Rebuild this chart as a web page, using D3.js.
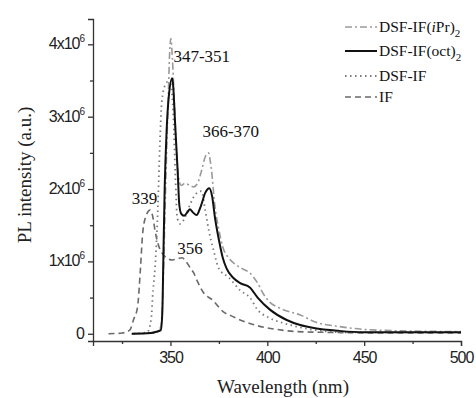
<!DOCTYPE html>
<html><head><meta charset="utf-8">
<script src="https://cdn.jsdelivr.net/npm/d3@7"></script>
<style>
body{margin:0;background:#fff;}
svg{display:block;}
</style></head>
<body><svg id="c" width="476" height="398"></svg>
<script>
// values in units of 10^6 a.u.
const ifWl  = [318,325,329,331,333,334.5,335.5,337,339.5,341,342,343.5,345.5,348,351,354,356,358,360,362,364,367,372,377,382,387,395,405,415,430,460,500];
const ifVal = [0,0.01,0.05,0.2,0.37,0.9,1.34,1.6,1.71,1.6,1.43,1.25,1.12,1.05,1.02,1.04,1.05,1.0,0.92,0.84,0.72,0.57,0.46,0.31,0.24,0.18,0.11,0.06,0.03,0.02,0.01,0.01];

const dsfWl  = [331,338,340,341,342,343,343.5,344.5,345.5,347,348.5,350,351.5,352.5,353.5,355,357,360,363,366,368,370,372,375,380,386,391,395,401,408,415,425,440,470,500];
const dsfVal = [0,0.02,0.2,0.6,0.9,1.4,1.75,2.6,3.2,3.42,3.48,3.45,3.0,2.2,1.6,1.52,1.58,1.78,1.93,1.97,1.7,1.4,1.18,0.9,0.78,0.6,0.5,0.33,0.22,0.15,0.1,0.05,0.02,0.02,0.02];

const octWl  = [330,340,343,345,345.8,346.3,347,348,349.1,350.9,352.6,353.8,354.5,355.5,357,359,360,361.5,363.5,365.5,368,370,371.5,373,375,377,379,382.5,386,391,395,401.5,410,417,424,437,450,500];
const octVal = [0,0.01,0.03,0.05,0.3,1.0,2.0,2.8,3.27,3.53,2.8,2.2,1.8,1.66,1.63,1.69,1.72,1.68,1.64,1.75,1.95,2.01,1.9,1.6,1.3,1.05,0.9,0.77,0.7,0.64,0.5,0.33,0.19,0.12,0.08,0.04,0.02,0.02];

const iprWl  = [330,343,345,346,347,348,348.8,349.6,350.2,351,352,353,354,355.5,357.5,360,362,364,366,368,369.6,371,373,374.7,377,380,383,387,391,395,398,401.5,406,412,417,424,437,450,470,500];
const iprVal = [0,0.02,0.1,0.5,1.5,2.5,3.2,3.9,4.08,3.8,3.2,2.6,2.2,2.05,2.08,2.05,2.03,2.08,2.25,2.45,2.5,2.3,1.75,1.48,1.2,1.05,0.97,0.9,0.84,0.7,0.55,0.43,0.36,0.3,0.26,0.17,0.1,0.06,0.04,0.03];

const xTicks = [350,400,450,500];
const xMinor = [325,375,425,475];
const yTicks = [0,1,2,3,4];
const yMinor = [0.5,1.5,2.5,3.5];
const annotations = [
  {text:"347-351", w:351.5, v:3.75},
  {text:"366-370", w:366.5, v:2.72},
  {text:"339", w:330, v:1.8},
  {text:"356", w:353.5, v:1.1}
];

const svg = d3.select("#c");
const x = d3.scaleLinear().domain([310,500]).range([93,461]);
const y = d3.scaleLinear().domain([-0.1,4.35]).range([341,19]);

const serif = "'Liberation Serif','Times New Roman',serif";
const sans = "'Liberation Sans',Arial,sans-serif";
const axisColor = "#333";

// axes
const xAxis = svg.append("g").attr("transform","translate(0,341)")
  .call(d3.axisBottom(x).tickValues(xTicks).tickSize(5).tickPadding(6).tickFormat(d3.format("d")));
xAxis.append("g").call(d3.axisBottom(x).tickValues(xMinor).tickSize(3).tickFormat(""))
  .select(".domain").remove();
xAxis.selectAll("text").attr("font-family",sans).attr("font-size",16).attr("fill","#222").attr("letter-spacing","-1");

const yAxis = svg.append("g").attr("transform","translate(93,0)")
  .call(d3.axisLeft(y).tickValues(yTicks).tickSize(5).tickPadding(3).tickFormat(""));
yAxis.append("g").call(d3.axisLeft(y).tickValues(yMinor).tickSize(3).tickFormat(""))
  .select(".domain").remove();
svg.selectAll(".domain").attr("stroke",axisColor).attr("stroke-width",1.3);
svg.selectAll(".tick line").attr("stroke",axisColor).attr("stroke-width",1.3);

// y tick labels with superscript
yTicks.forEach(t => {
  const tx = svg.append("text").attr("x",84).attr("y",y(t)+5)
    .attr("text-anchor","end").attr("font-family",sans).attr("font-size",16)
    .attr("fill","#222").attr("letter-spacing","-1");
  if (t === 0) { tx.text("0"); }
  else {
    tx.append("tspan").text(t+"x10");
    tx.append("tspan").attr("font-size",10).attr("dy",-7).text("6");
  }
});

// axis titles
svg.append("text").attr("x",283).attr("y",393).attr("text-anchor","middle")
  .attr("font-family",serif).attr("font-size",19).attr("fill","#222").text("Wavelength (nm)");
svg.append("text").attr("transform","translate(31,175) rotate(-90)").attr("text-anchor","middle")
  .attr("font-family",serif).attr("font-size",19).attr("fill","#222").text("PL intensity (a.u.)");

// series
const series = [
  {name:"IF", wl:ifWl, val:ifVal, color:"#6a6a6a", width:1.6, dash:"6,4"},
  {name:"DSF-IF", wl:dsfWl, val:dsfVal, color:"#7a7a7a", width:1.8, dash:"1.5,3.5"},
  {name:"iPr", wl:iprWl, val:iprVal, color:"#9a9a9a", width:1.6, dash:"7,3,2,3"},
  {name:"oct", wl:octWl, val:octVal, color:"#111", width:2, dash:null}
];
const line = d3.line().x(d=>x(d[0])).y(d=>y(d[1])).curve(d3.curveMonotoneX);
series.forEach(s => {
  svg.append("path").datum(s.wl.map((w,i)=>[w,s.val[i]]))
    .attr("d",line).attr("fill","none").attr("stroke",s.color)
    .attr("stroke-width",s.width).attr("stroke-dasharray",s.dash)
    .attr("stroke-linejoin","round");
});

// annotations
svg.selectAll("text.ann").data(annotations).enter().append("text").attr("class","ann")
  .attr("x",d=>x(d.w)).attr("y",d=>y(d.v)).attr("font-family",serif).attr("font-size",17)
  .attr("fill","#111").text(d=>d.text);

// legend
const legend = [
  {label:"DSF-IF(", it:"i", rest:"Pr)", sub:"2", color:"#9a9a9a", width:1.6, dash:"7,3,2,3", yy:27},
  {label:"DSF-IF(oct)", sub:"2", color:"#111", width:2, dash:null, yy:51},
  {label:"DSF-IF", color:"#7a7a7a", width:1.8, dash:"1.5,3.5", yy:76},
  {label:"IF", color:"#6a6a6a", width:1.6, dash:"6,4", yy:97}
];
legend.forEach(l => {
  svg.append("line").attr("x1",345).attr("x2",377).attr("y1",l.yy).attr("y2",l.yy)
    .attr("stroke",l.color).attr("stroke-width",l.width).attr("stroke-dasharray",l.dash);
  const t = svg.append("text").attr("x",379).attr("y",l.yy+5).attr("font-family",serif)
    .attr("font-size",15.5).attr("fill","#111");
  t.append("tspan").text(l.label);
  if (l.it) { t.append("tspan").attr("font-style","italic").text(l.it); t.append("tspan").text(l.rest); }
  if (l.sub) t.append("tspan").attr("font-size",11).attr("dy",5).text(l.sub);
});
</script></body></html>
